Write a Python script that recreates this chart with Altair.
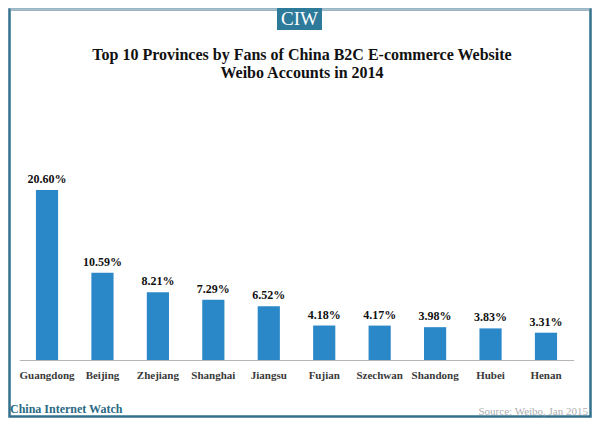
import altair as alt
import pandas as pd

provinces = ["Guangdong", "Beijing", "Zhejiang", "Shanghai", "Jiangsu",
             "Fujian", "Szechwan", "Shandong", "Hubei", "Henan"]
shares = [20.60, 10.59, 8.21, 7.29, 6.52, 4.18, 4.17, 3.98, 3.83, 3.31]
share_labels = ["20.60%", "10.59%", "8.21%", "7.29%", "6.52%",
                "4.18%", "4.17%", "3.98%", "3.83%", "3.31%"]
title_lines = ["Top 10 Provinces by Fans of China B2C E-commerce Website",
               "Weibo Accounts in 2014"]
badge_text = "CIW"
brand_text = "China Internet Watch"
source_text = "Source: Weibo,  Jan 2015"

df = pd.DataFrame({"province": provinces, "share": shares, "label": share_labels})

# layout (page pixels -> plot coordinates)
PL, PT = 11.3, 145.75
W, H = 554.4, 206.25
def px(x):
    return x - 8 - PL
def py(y):
    return y - 8 - PT

one = alt.Data(values=[{"k": 1}])
SERIF = "Liberation Serif"
BAR = "#2b88c8"
TEAL = "#2d7a9a"

xenc = alt.X("province:N", sort=provinces,
             scale=alt.Scale(paddingInner=0.6, paddingOuter=0.3),
             axis=alt.Axis(title=None, ticks=False, domainColor="#b5b5b5",
                           domainWidth=1, labelFont=SERIF, labelFontSize=11,
                           labelFontWeight="bold", labelColor="#3a3a3a",
                           labelPadding=9, labelAngle=0, grid=False))
yscale = alt.Scale(domain=[0, 25], nice=False, zero=True)

bars = alt.Chart(df).mark_bar(color=BAR).encode(
    x=xenc,
    y=alt.Y("share:Q", scale=yscale, axis=None),
)
vals = alt.Chart(df).mark_text(font=SERIF, fontSize=12, fontWeight="bold",
                               color="#111111", dy=-7, baseline="alphabetic").encode(
    x=alt.X("province:N", sort=provinces),
    y=alt.Y("share:Q", scale=yscale),
    text="label:N",
)

title = alt.Chart(one).mark_text(font=SERIF, fontSize=16, fontWeight="bold",
                                 color="#111111", align="center",
                                 baseline="alphabetic", lineHeight=18).encode(
    x=alt.value(px(302)), y=alt.value(py(60)), text=alt.value(title_lines))

badge = alt.Chart(one).mark_rect(color=TEAL).encode(
    x=alt.value(px(277)), x2=alt.value(px(322)),
    y=alt.value(py(4)), y2=alt.value(py(30)))
badge_t = alt.Chart(one).mark_text(font=SERIF, fontSize=19, color="white",
                                   align="center", baseline="alphabetic").encode(
    x=alt.value(px(299.5)), y=alt.value(py(25)), text=alt.value(badge_text))

brand = alt.Chart(one).mark_text(font=SERIF, fontSize=12, fontWeight="bold",
                                 color="#2a6a84", align="left",
                                 baseline="alphabetic").encode(
    x=alt.value(px(10)), y=alt.value(py(413)), text=alt.value(brand_text))
source = alt.Chart(one).mark_text(font=SERIF, fontSize=11, color="#b0b0b0",
                                  align="right", baseline="alphabetic").encode(
    x=alt.value(px(588)), y=alt.value(py(415)), text=alt.value(source_text))

frame = alt.Chart(one).mark_rect(filled=False, stroke="#33708c", strokeWidth=2.5).encode(
    x=alt.value(px(9.5)), x2=alt.value(px(590.5)),
    y=alt.value(py(9.5)), y2=alt.value(py(416.5)))
topline = alt.Chart(one).mark_rule(color="#a9c0cc", strokeWidth=2.5).encode(
    x=alt.value(px(10.5)), x2=alt.value(px(589.5)), y=alt.value(py(9.5)))

chart = alt.layer(bars, vals, title, frame, topline, badge, badge_t, brand, source).properties(
    width=W, height=H,
    padding={"left": PL, "top": PT, "right": 584 - PL - W, "bottom": 410 - PT - H},
    autosize=alt.AutoSizeParams(type="none"),
    background="white",
).configure_view(stroke=None)

chart.save("out.html", embed_options={"renderer": "svg", "actions": False})
